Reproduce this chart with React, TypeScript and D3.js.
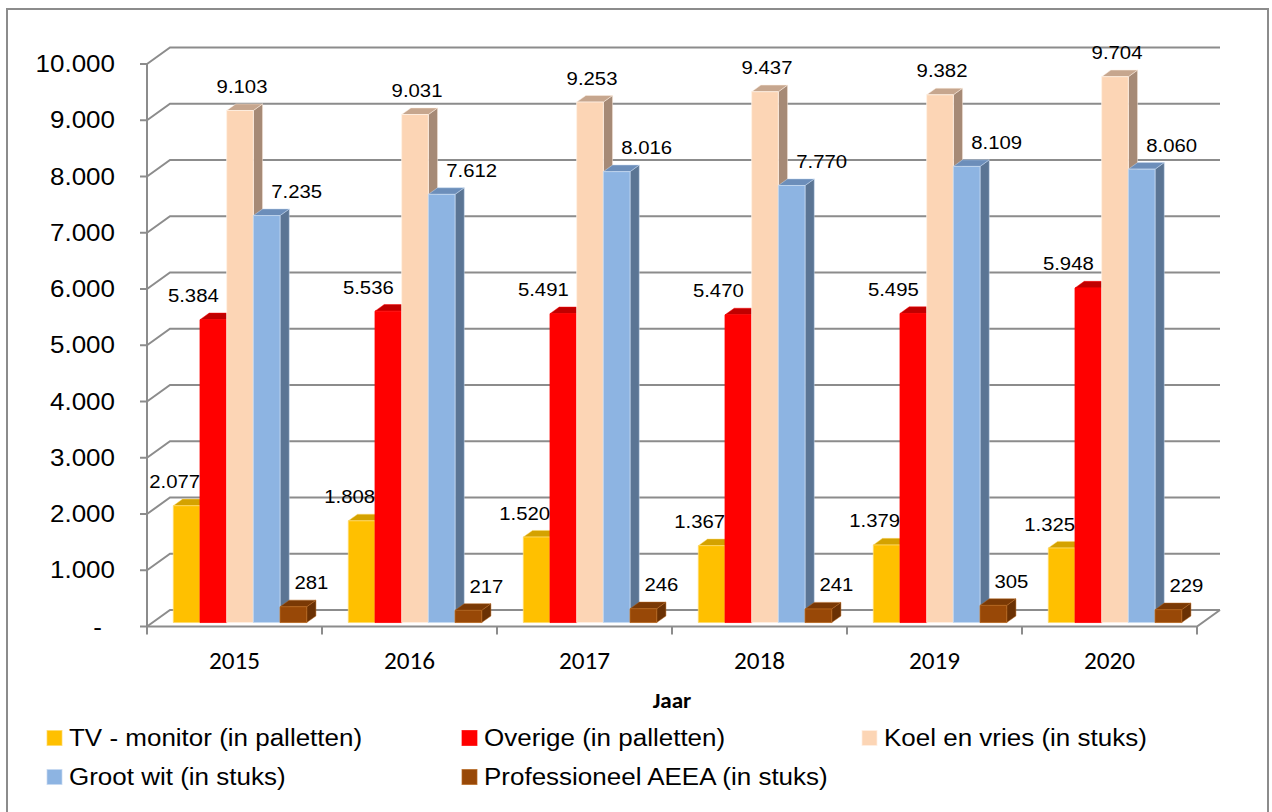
import React from 'react';
import * as d3 from 'd3';

// chart data
const years = ['2015', '2016', '2017', '2018', '2019', '2020'];
const tvMonitor = [2077, 1808, 1520, 1367, 1379, 1325];
const overige = [5384, 5536, 5491, 5470, 5495, 5948];
const koelVries = [9103, 9031, 9253, 9437, 9382, 9704];
const grootWit = [7235, 7612, 8016, 7770, 8109, 8060];
const professioneel = [281, 217, 246, 241, 305, 229];
const yTicks = [0, 1000, 2000, 3000, 4000, 5000, 6000, 7000, 8000, 9000, 10000];
const seriesNames = [
  'TV - monitor (in palletten)',
  'Overige (in palletten)',
  'Koel en vries (in stuks)',
  'Groot wit (in stuks)',
  'Professioneel AEEA (in stuks)',
];

const W = 1272;
const H = 812;
const SX = 1.13; // the source image is a little stretched horizontally
const ARIAL = '"Liberation Sans", Arial, sans-serif';
const CALIBRI = 'Carlito, Calibri, Lato, sans-serif';
const GRID = '#8c8c8c';

// oblique 3D: depth vector of the whole floor
const DX = 23;
const DY = -16.5;
const D0 = 0.24; // front of the bars
const D1 = 0.64; // back of the bars

const styles = [
  { front: '#FFC000', top: '#D4A200', side: '#A98000', edge: '#FFD966', dx: -12 },
  { front: '#FF0000', top: '#C00000', side: '#A00000', edge: '#FF0000', dx: -20 },
  { front: '#FCD5B5', top: '#C6A68E', side: '#A68A76', edge: '#FFF0E4', dx: 2 },
  { front: '#8DB4E2', top: '#6C8EBA', side: '#5B7594', edge: '#C6D9F1', dx: 30 },
  { front: '#984807', top: '#7A3905', side: '#6A3104', edge: '#B5651D', dx: 18 },
];

const nl = d3.formatLocale({ decimal: ',', thousands: '.', grouping: [3], currency: ['€', ''] });
const fmt = nl.format(',.0f');

const T = ({ x, y, size, anchor = 'middle', family = ARIAL, weight = 400, sx = SX, children }: any) => (
  <text
    transform={`translate(${x},${y}) scale(${sx},1)`}
    textAnchor={anchor}
    fontFamily={family}
    fontSize={size}
    fontWeight={weight}
    fill="#000"
  >
    {children}
  </text>
);

export default function App() {
  const data = [tvMonitor, overige, koelVries, grootWit, professioneel];

  const x = d3.scaleBand().domain(years).range([147, 1197]).padding(0);
  const xs = d3.scaleBand().domain(seriesNames).range([0, x.bandwidth()]).paddingInner(0).paddingOuter(0.78);
  const y = d3.scaleLinear().domain([0, 10000]).range([626.5, 64]);
  const bw = xs.bandwidth();

  const P = (xf: number, v: number, d: number) => [xf + DX * d, y(v) + DY * d];
  const poly = (pts: number[][]) => pts.map(p => p.join(',')).join(' ');

  const x0 = x.range()[0];
  const x1 = x.range()[1];

  return (
    <svg width={W} height={H} style={{ position: 'absolute', left: 0, top: 0, background: '#fff' }}>
      <rect x={7} y={9} width={1261} height={830} fill="#fff" stroke={GRID} strokeWidth={2} />

      {/* side wall diagonals + back wall gridlines */}
      {yTicks.map(t => (
        <g key={t}>
          <polyline
            points={poly([[x0, y(t)], P(x0, t, 1), P(x1, t, 1)])}
            fill="none"
            stroke={GRID}
            strokeWidth={2}
          />
          <line x1={x0 - 7} x2={x0} y1={y(t)} y2={y(t)} stroke={GRID} strokeWidth={2} />
        </g>
      ))}

      {/* floor */}
      <polyline points={poly([[x0, y(0)], [x1, y(0)], P(x1, 0, 1)])} fill="none" stroke={GRID} strokeWidth={2} />
      <line x1={x0} x2={x0} y1={y(10000)} y2={y(0)} stroke={GRID} strokeWidth={2} />
      {[...years, 'end'].map((yr, i) => {
        const xx = x0 + i * x.bandwidth();
        return <line key={yr} x1={xx} x2={xx} y1={y(0)} y2={y(0) + 8} stroke={GRID} strokeWidth={2} />;
      })}

      {/* y tick labels */}
      {yTicks.map(t => (
        <T key={t} x={t === 0 ? 102 : 115} y={y(t) + 8} size={23} anchor="end">
          {t === 0 ? '-' : fmt(t)}
        </T>
      ))}

      {/* bars */}
      {years.map((yr, gi) => (
        <g key={yr}>
          {seriesNames.map((s, si) => {
            const v = data[si][gi];
            const st = styles[si];
            const l = (x(yr) as number) + (xs(s) as number);
            const r = l + bw;
            const front = [P(l, v, D0), P(r, v, D0), P(r, 0, D0), P(l, 0, D0)];
            const top = [P(l, v, D0), P(r, v, D0), P(r, v, D1), P(l, v, D1)];
            const side = [P(r, v, D0), P(r, 0, D0), P(r, 0, D1), P(r, v, D1)];
            return (
              <g key={s}>
                <polygon points={poly(side)} fill={st.side} stroke={st.edge} strokeWidth={0.8} strokeOpacity={0.6} />
                <polygon points={poly(top)} fill={st.top} stroke={st.edge} strokeWidth={0.8} strokeOpacity={0.6} />
                <polygon points={poly(front)} fill={st.front} stroke={st.edge} strokeWidth={1} strokeOpacity={0.8} />
              </g>
            );
          })}
        </g>
      ))}

      {/* value labels */}
      {years.map((yr, gi) =>
        seriesNames.map((s, si) => {
          const v = data[si][gi];
          const cx = (x(yr) as number) + (xs(s) as number) + bw / 2 + DX * D0 + styles[si].dx;
          const ty = y(v) + DY * D0;
          return (
            <T key={yr + s} x={cx} y={ty - 17.5} size={18}>
              {fmt(v)}
            </T>
          );
        })
      )}

      {/* category labels */}
      {years.map(yr => (
        <T key={yr} x={(x(yr) as number) + x.bandwidth() / 2} y={669} size={24} family={CALIBRI} sx={1.05}>
          {yr}
        </T>
      ))}
      <T x={(x0 + x1) / 2} y={708} size={22} family={CALIBRI} weight={700} sx={1.05}>
        Jaar
      </T>

      {/* legend */}
      {seriesNames.map((s, i) => {
        const col = i < 3 ? i : i - 3;
        const row = i < 3 ? 0 : 1;
        const lx = [47, 462, 862][col];
        const ly = [738, 777][row];
        return (
          <g key={s}>
            <rect x={lx} y={ly - 7.5} width={15} height={15} fill={styles[i].front} stroke={styles[i].edge} strokeWidth={1} strokeOpacity={0.7} />
            <T x={lx + 22} y={ly + 8} size={23} anchor="start">
              {s}
            </T>
          </g>
        );
      })}
    </svg>
  );
}
